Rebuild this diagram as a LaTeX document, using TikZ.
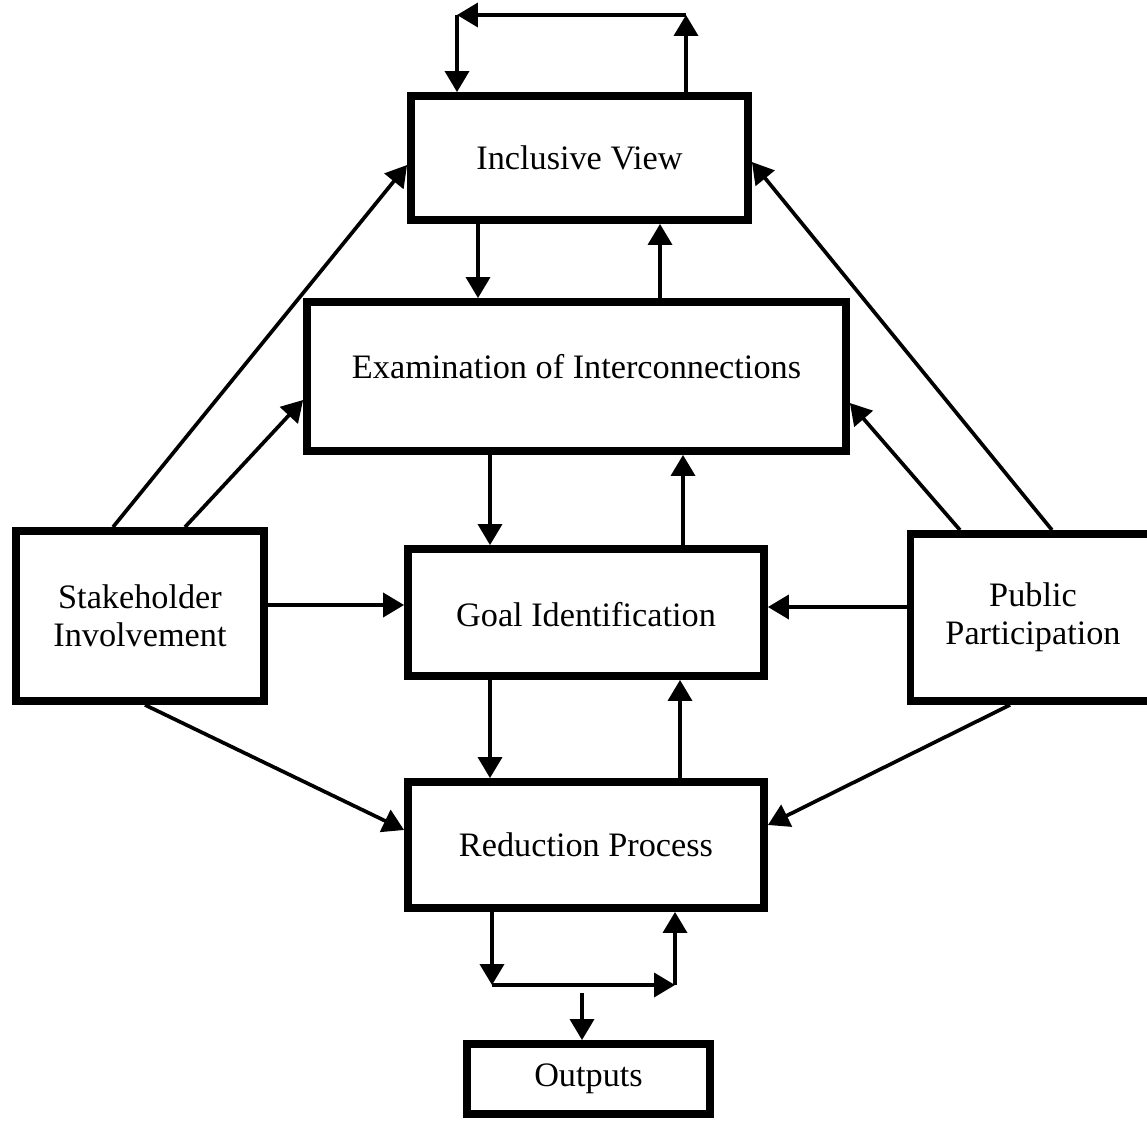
\documentclass[tikz,border=0pt]{standalone}
\usepackage{fontspec}
\setmainfont{Liberation Serif}
\usetikzlibrary{arrows.meta}
\begin{document}
\begin{tikzpicture}[x=0.02cm,y=-0.02cm,
  box/.style={draw,line width=4.5pt,fill=white,inner sep=0pt,align=center,
    font=\fontsize{19.5}{21.5}\selectfont},
  arr/.style={line width=2.1pt,-{Triangle[length=0.42cm,width=0.48cm]}}]
\clip (0,0) rectangle (1147,1122);
\fill[white] (0,0) rectangle (1147,1122);

% boxes
\node[box,minimum width=6.74cm,minimum height=2.48cm] (incl)  at (579.5,158) {Inclusive View};
\node[box,minimum width=10.78cm,minimum height=2.98cm,text height=0.48cm,text depth=0.42cm]
  (exam) at (576.5,376.5) {Examination of Interconnections};
\node[box,minimum width=7.12cm,minimum height=2.54cm,text height=0.68cm,text depth=0.13cm]
  (goal) at (586,612.5) {Goal Identification};
\node[box,minimum width=7.12cm,minimum height=2.52cm] (red)   at (586,845) {Reduction Process};
\node[box,minimum width=4.86cm,minimum height=1.40cm] (out)   at (588.5,1079) {Outputs};
\node[box,minimum width=4.96cm,minimum height=3.40cm] (stake) at (140,616) {Stakeholder\\Involvement};
\node[box,minimum width=4.90cm,minimum height=3.34cm] (pub)   at (1033,617.5) {Public\\Participation};

% helper positions
\coordinate (tl) at (457,15);
\coordinate (tr) at (686,15);
\coordinate (bl) at (492,985);
\coordinate (br) at (675,985);
\coordinate (bm) at (582,993);
\coordinate (xa1) at (478,0);  \coordinate (xa2) at (660,0);
\coordinate (xb1) at (490,0);  \coordinate (xb2) at (683,0);
\coordinate (xc1) at (490,0);  \coordinate (xc2) at (680,0);
\coordinate (s1) at (113,0);   \coordinate (s2) at (185,0);  \coordinate (s3) at (145,0);
\coordinate (p1) at (1052,0);  \coordinate (p2) at (960,0);  \coordinate (p3) at (1010,0);
\coordinate (ya) at (0,165);   \coordinate (yb) at (0,400);  \coordinate (yc) at (0,605);
\coordinate (yd) at (0,830);   \coordinate (ye) at (0,162);  \coordinate (yf) at (0,403);
\coordinate (yg) at (0,607);   \coordinate (yh) at (0,825);

% feedback loop above the top box
\draw[arr] (incl.north -| tr) -- (tr);
\draw[arr] (tr) -- (tl);
\draw[arr] (tl) -- (incl.north -| tl);

% central chain
\draw[arr] (incl.south -| xa1) -- (exam.north -| xa1);
\draw[arr] (exam.north -| xa2) -- (incl.south -| xa2);
\draw[arr] (exam.south -| xb1) -- (goal.north -| xb1);
\draw[arr] (goal.north -| xb2) -- (exam.south -| xb2);
\draw[arr] (goal.south -| xc1) -- (red.north -| xc1);
\draw[arr] (red.north -| xc2) -- (goal.south -| xc2);

% feedback loop below the reduction box
\draw[arr] (red.south -| bl) -- (bl);
\draw[arr] (bl) -- (br);
\draw[arr] (br) -- (red.south -| br);
\draw[arr] (bm) -- (out.north -| bm);

% stakeholder links
\draw[arr] (stake.north -| s1) -- (incl.west |- ya);
\draw[arr] (stake.north -| s2) -- (exam.west |- yb);
\draw[arr] (stake.east |- yc) -- (goal.west |- yc);
\draw[arr] (stake.south -| s3) -- (red.west |- yd);

% public links
\draw[arr] (pub.north -| p1) -- (incl.east |- ye);
\draw[arr] (pub.north -| p2) -- (exam.east |- yf);
\draw[arr] (pub.west |- yg) -- (goal.east |- yg);
\draw[arr] (pub.south -| p3) -- (red.east |- yh);
\end{tikzpicture}
\end{document}
